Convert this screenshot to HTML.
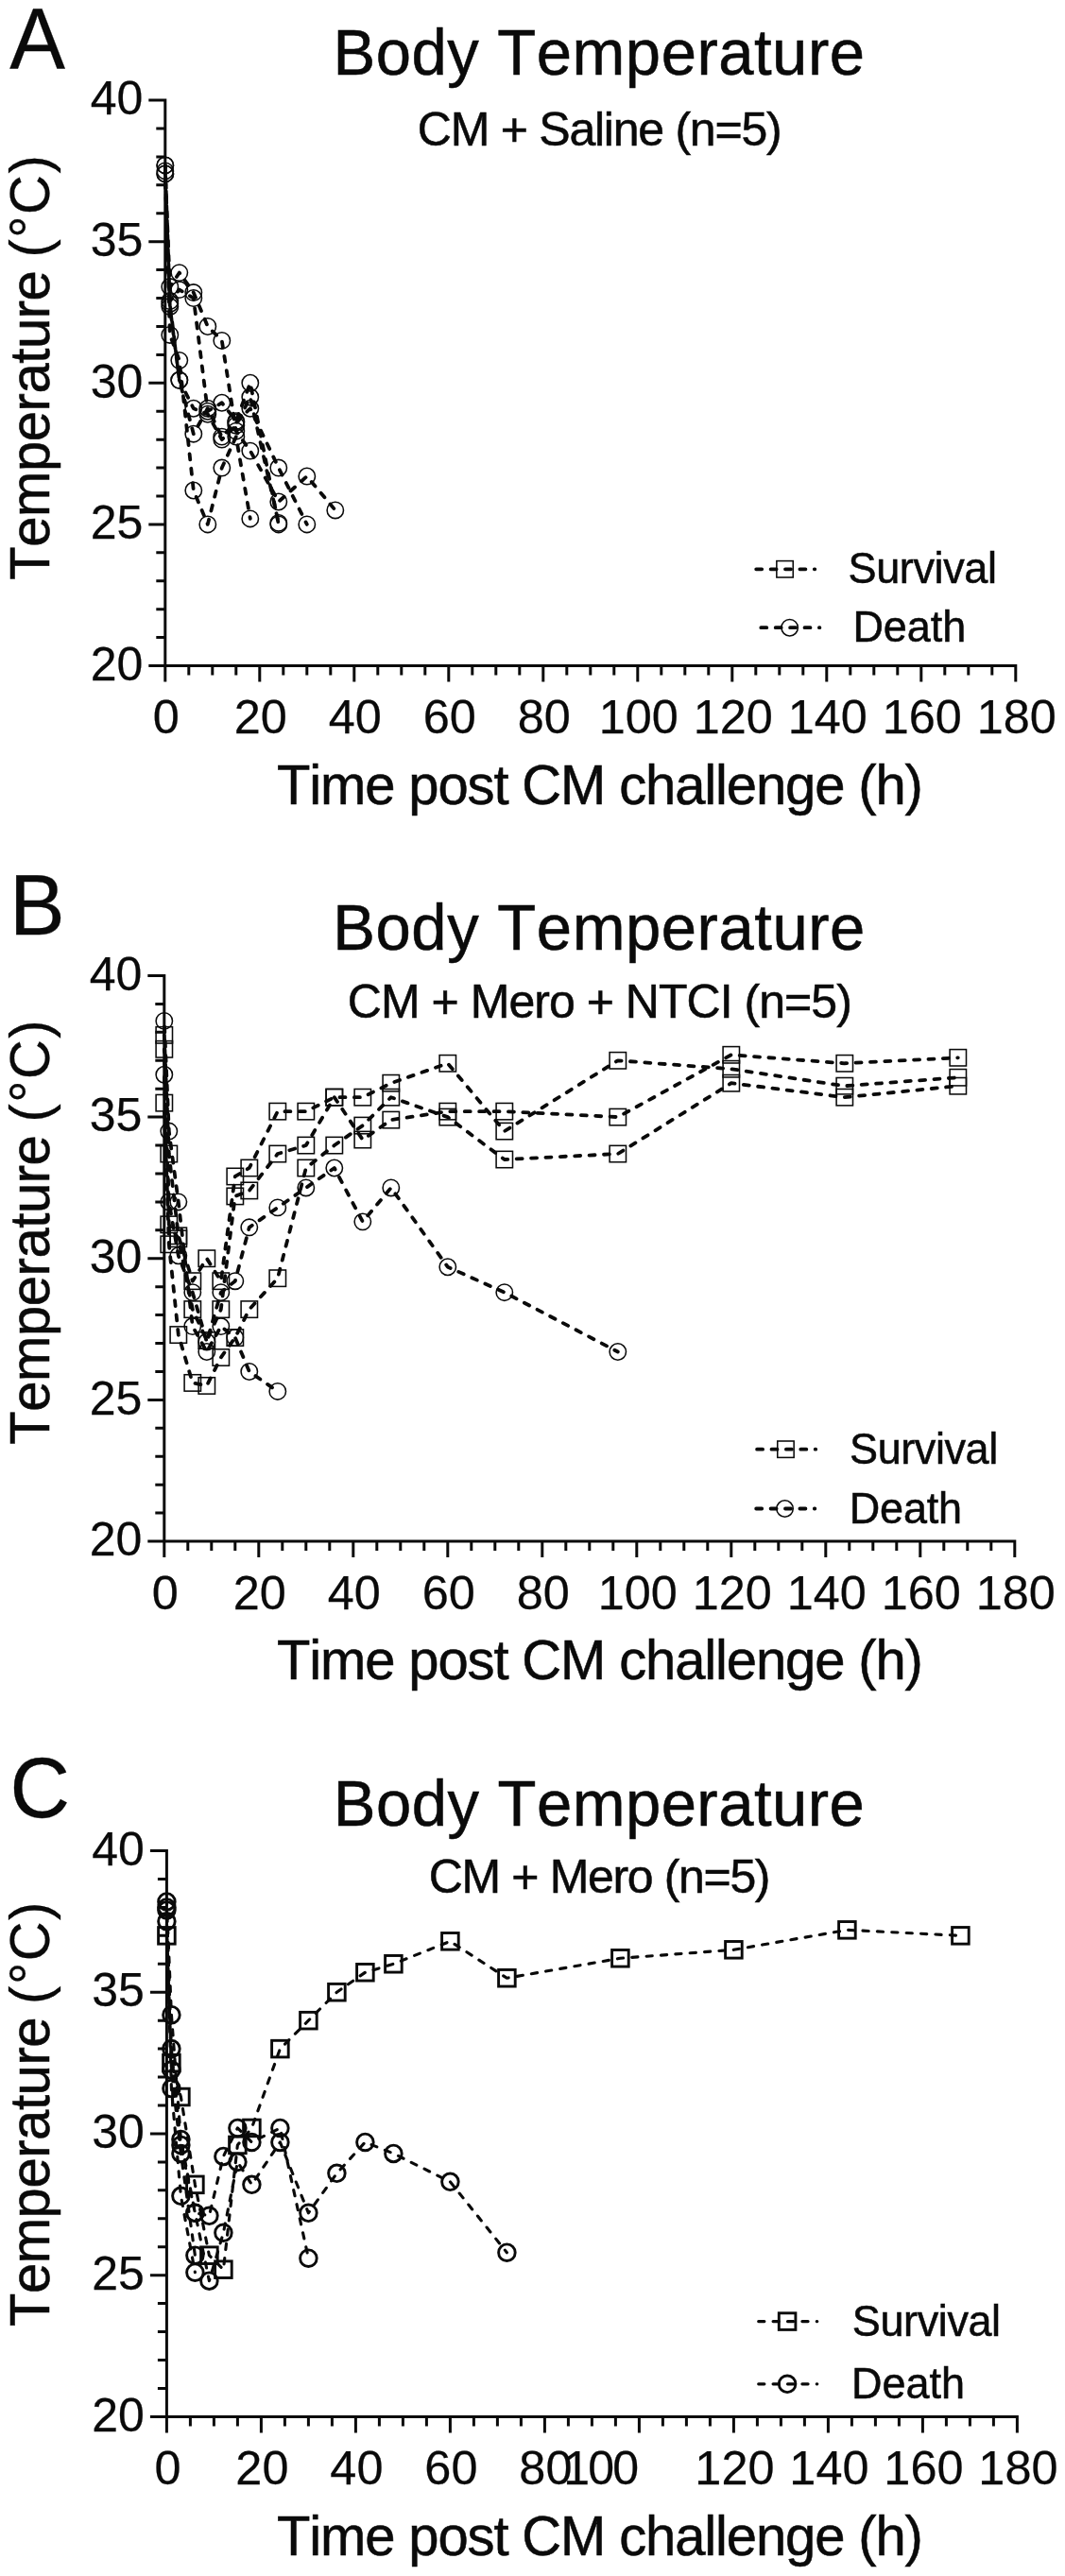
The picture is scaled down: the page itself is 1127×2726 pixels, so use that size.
<!DOCTYPE html>
<html lang="en"><head><meta charset="utf-8"><title>Body Temperature</title>
<style>html,body{margin:0;padding:0;background:#fff}svg{display:block;will-change:transform}text{font-family:'Liberation Sans', Arial, Helvetica, sans-serif;fill:#0a0a0a;font-kerning:none}</style></head><body>
<svg width="1127" height="2726" viewBox="0 0 1127 2726">
<rect width="1127" height="2726" fill="#fff"/>
<g id="panelA">
<text transform="translate(10.23 71.8) scale(1 1.04)" font-size="88" textLength="58.94" lengthAdjust="spacing" stroke="#0a0a0a" stroke-width="0.3">A</text>
<text transform="translate(352.5 79) scale(1 1.01)" font-size="67" textLength="562.47" lengthAdjust="spacing" stroke="#0a0a0a" stroke-width="0.55">Body Temperature</text>
<text transform="translate(441.86 153.9) scale(1 1.01)" font-size="50" textLength="385.74" lengthAdjust="spacing" stroke="#0a0a0a" stroke-width="0.55">CM + Saline (n=5)</text>
<text transform="translate(52 613.8) rotate(-90) scale(1 1.01)" font-size="58" textLength="327.68" lengthAdjust="spacing" stroke="#0a0a0a" stroke-width="0.55">Temperature</text>
<text transform="translate(52 272.6) rotate(-90) scale(1 1.01)" font-size="58" textLength="108.49" lengthAdjust="spacing" stroke="#0a0a0a" stroke-width="0.3">(°C)</text>
<text transform="translate(293 850.8) scale(1 1.01)" font-size="58" textLength="683.9" lengthAdjust="spacing" stroke="#0a0a0a" stroke-width="0.55">Time post CM challenge (h)</text>
<path d="M174.8 104.6V721.5M157.3 704.5H1076.3M165.3 674.58H174.8M165.3 644.66H174.8M165.3 614.74H174.8M165.3 584.82H174.8M157.3 554.9H174.8M165.3 524.98H174.8M165.3 495.06H174.8M165.3 465.14H174.8M165.3 435.22H174.8M157.3 405.3H174.8M165.3 375.38H174.8M165.3 345.46H174.8M165.3 315.54H174.8M165.3 285.62H174.8M157.3 255.7H174.8M165.3 225.78H174.8M165.3 195.86H174.8M165.3 165.94H174.8M165.3 136.02H174.8M157.3 106.1H174.8M199.8 704.5V714.5M224.8 704.5V714.5M249.8 704.5V714.5M274.8 704.5V721.5M299.8 704.5V714.5M324.8 704.5V714.5M349.8 704.5V714.5M374.8 704.5V721.5M399.8 704.5V714.5M424.8 704.5V714.5M449.8 704.5V714.5M474.8 704.5V721.5M499.8 704.5V714.5M524.8 704.5V714.5M549.8 704.5V714.5M574.8 704.5V721.5M599.8 704.5V714.5M624.8 704.5V714.5M649.8 704.5V714.5M674.8 704.5V721.5M699.8 704.5V714.5M724.8 704.5V714.5M749.8 704.5V714.5M774.8 704.5V721.5M799.8 704.5V714.5M824.8 704.5V714.5M849.8 704.5V714.5M874.8 704.5V721.5M899.8 704.5V714.5M924.8 704.5V714.5M949.8 704.5V714.5M974.8 704.5V721.5M999.8 704.5V714.5M1024.8 704.5V714.5M1049.8 704.5V714.5M1074.8 704.5V721.5" fill="none" stroke="#0a0a0a" stroke-width="3"/>
<text transform="translate(151.3 719.7) scale(1 1)" font-size="50" text-anchor="end" stroke="#0a0a0a" stroke-width="0.25">20</text>
<text transform="translate(151.3 570.1) scale(1 1)" font-size="50" text-anchor="end" stroke="#0a0a0a" stroke-width="0.25">25</text>
<text transform="translate(151.3 420.5) scale(1 1)" font-size="50" text-anchor="end" stroke="#0a0a0a" stroke-width="0.25">30</text>
<text transform="translate(151.3 270.9) scale(1 1)" font-size="50" text-anchor="end" stroke="#0a0a0a" stroke-width="0.25">35</text>
<text transform="translate(151.3 121.3) scale(1 1)" font-size="50" text-anchor="end" stroke="#0a0a0a" stroke-width="0.25">40</text>
<text transform="translate(175.8 776.2) scale(1 1)" font-size="50.4" text-anchor="middle" stroke="#0a0a0a" stroke-width="0.25">0</text>
<text transform="translate(275.8 776.2) scale(1 1)" font-size="50.4" text-anchor="middle" stroke="#0a0a0a" stroke-width="0.25">20</text>
<text transform="translate(375.8 776.2) scale(1 1)" font-size="50.4" text-anchor="middle" stroke="#0a0a0a" stroke-width="0.25">40</text>
<text transform="translate(475.8 776.2) scale(1 1)" font-size="50.4" text-anchor="middle" stroke="#0a0a0a" stroke-width="0.25">60</text>
<text transform="translate(575.8 776.2) scale(1 1)" font-size="50.4" text-anchor="middle" stroke="#0a0a0a" stroke-width="0.25">80</text>
<text transform="translate(675.8 776.2) scale(1 1)" font-size="50.4" text-anchor="middle" stroke="#0a0a0a" stroke-width="0.25">100</text>
<text transform="translate(775.8 776.2) scale(1 1)" font-size="50.4" text-anchor="middle" stroke="#0a0a0a" stroke-width="0.25">120</text>
<text transform="translate(875.8 776.2) scale(1 1)" font-size="50.4" text-anchor="middle" stroke="#0a0a0a" stroke-width="0.25">140</text>
<text transform="translate(975.8 776.2) scale(1 1)" font-size="50.4" text-anchor="middle" stroke="#0a0a0a" stroke-width="0.25">160</text>
<text transform="translate(1075.8 776.2) scale(1 1)" font-size="50.4" text-anchor="middle" stroke="#0a0a0a" stroke-width="0.25">180</text>
<g fill="none" stroke="#0a0a0a" stroke-width="3.8" stroke-linecap="round" stroke-linejoin="round" stroke-dasharray="6 9.4">
<polyline points="174.8,174.92 179.8,354.44 189.8,381.36 204.8,519 219.8,554.9 234.8,495.06 249.8,462.15 264.8,548.92" stroke-dashoffset="0"/>
<polyline points="174.8,180.9 179.8,303.57 189.8,288.61 204.8,309.56 219.8,345.46 234.8,360.42 249.8,456.16 264.8,477.11 294.8,530.96 324.8,504.04 354.8,539.94" stroke-dashoffset="3.1"/>
<polyline points="174.8,183.89 179.8,318.53 189.8,306.56 204.8,315.54 219.8,435.22 234.8,426.24 249.8,445.69 264.8,405.3 294.8,554.9" stroke-dashoffset="6.2"/>
<polyline points="174.8,174.92 179.8,321.52 189.8,402.31 204.8,432.23 219.8,438.21 234.8,465.14 249.8,450.18 264.8,420.26 294.8,553.4" stroke-dashoffset="3.54"/>
<polyline points="174.8,183.89 179.8,324.52 189.8,402.31 204.8,459.16 219.8,432.23 234.8,462.15 249.8,447.19 264.8,432.23 294.8,495.06 324.8,554.9" stroke-dashoffset="5.26"/>
<path d="M800.2 602.3H862.3"/>
<path d="M805.3 664.2H867.4"/>
</g>
<g fill="none" stroke="#0a0a0a" stroke-width="1.55">
<circle cx="174.8" cy="174.92" r="8.7"/>
<circle cx="179.8" cy="354.44" r="8.7"/>
<circle cx="189.8" cy="381.36" r="8.7"/>
<circle cx="204.8" cy="519" r="8.7"/>
<circle cx="219.8" cy="554.9" r="8.7"/>
<circle cx="234.8" cy="495.06" r="8.7"/>
<circle cx="249.8" cy="462.15" r="8.7"/>
<circle cx="264.8" cy="548.92" r="8.7"/>
<circle cx="174.8" cy="180.9" r="8.7"/>
<circle cx="179.8" cy="303.57" r="8.7"/>
<circle cx="189.8" cy="288.61" r="8.7"/>
<circle cx="204.8" cy="309.56" r="8.7"/>
<circle cx="219.8" cy="345.46" r="8.7"/>
<circle cx="234.8" cy="360.42" r="8.7"/>
<circle cx="249.8" cy="456.16" r="8.7"/>
<circle cx="264.8" cy="477.11" r="8.7"/>
<circle cx="294.8" cy="530.96" r="8.7"/>
<circle cx="324.8" cy="504.04" r="8.7"/>
<circle cx="354.8" cy="539.94" r="8.7"/>
<circle cx="174.8" cy="183.89" r="8.7"/>
<circle cx="179.8" cy="318.53" r="8.7"/>
<circle cx="189.8" cy="306.56" r="8.7"/>
<circle cx="204.8" cy="315.54" r="8.7"/>
<circle cx="219.8" cy="435.22" r="8.7"/>
<circle cx="234.8" cy="426.24" r="8.7"/>
<circle cx="249.8" cy="445.69" r="8.7"/>
<circle cx="264.8" cy="405.3" r="8.7"/>
<circle cx="294.8" cy="554.9" r="8.7"/>
<circle cx="174.8" cy="174.92" r="8.7"/>
<circle cx="179.8" cy="321.52" r="8.7"/>
<circle cx="189.8" cy="402.31" r="8.7"/>
<circle cx="204.8" cy="432.23" r="8.7"/>
<circle cx="219.8" cy="438.21" r="8.7"/>
<circle cx="234.8" cy="465.14" r="8.7"/>
<circle cx="249.8" cy="450.18" r="8.7"/>
<circle cx="264.8" cy="420.26" r="8.7"/>
<circle cx="294.8" cy="553.4" r="8.7"/>
<circle cx="174.8" cy="183.89" r="8.7"/>
<circle cx="179.8" cy="324.52" r="8.7"/>
<circle cx="189.8" cy="402.31" r="8.7"/>
<circle cx="204.8" cy="459.16" r="8.7"/>
<circle cx="219.8" cy="432.23" r="8.7"/>
<circle cx="234.8" cy="462.15" r="8.7"/>
<circle cx="249.8" cy="447.19" r="8.7"/>
<circle cx="264.8" cy="432.23" r="8.7"/>
<circle cx="294.8" cy="495.06" r="8.7"/>
<circle cx="324.8" cy="554.9" r="8.7"/>
<rect x="821.85" y="593.6" width="17.4" height="17.4"/>
<circle cx="835.65" cy="664.2" r="8.7"/>
</g>
<text transform="translate(897.56 617.3) scale(1 1.01)" font-size="45" textLength="157.35" lengthAdjust="spacing" stroke="#0a0a0a" stroke-width="0.55">Survival</text>
<text transform="translate(902.41 679) scale(1 1.01)" font-size="45" textLength="119.81" lengthAdjust="spacing" stroke="#0a0a0a" stroke-width="0.55">Death</text>
</g>
<g id="panelB">
<text transform="translate(9.88 988.5) scale(1 1.04)" font-size="88" textLength="59.06" lengthAdjust="spacing" stroke="#0a0a0a" stroke-width="0.3">B</text>
<text transform="translate(352.3 1004.8) scale(1 1.01)" font-size="67" textLength="563.07" lengthAdjust="spacing" stroke="#0a0a0a" stroke-width="0.55">Body Temperature</text>
<text transform="translate(367.86 1077.1) scale(1 1.01)" font-size="50" textLength="533.94" lengthAdjust="spacing" stroke="#0a0a0a" stroke-width="0.55">CM + Mero + NTCI (n=5)</text>
<text transform="translate(52 1528.8) rotate(-90) scale(1 1.01)" font-size="58" textLength="327.68" lengthAdjust="spacing" stroke="#0a0a0a" stroke-width="0.55">Temperature</text>
<text transform="translate(52 1187.6) rotate(-90) scale(1 1.01)" font-size="58" textLength="108.29" lengthAdjust="spacing" stroke="#0a0a0a" stroke-width="0.3">(°C)</text>
<text transform="translate(293 1777.2) scale(1 1.01)" font-size="58" textLength="683.9" lengthAdjust="spacing" stroke="#0a0a0a" stroke-width="0.55">Time post CM challenge (h)</text>
<path d="M173.8 1031V1648M156.3 1631H1075.3M164.3 1601.08H173.8M164.3 1571.15H173.8M164.3 1541.22H173.8M164.3 1511.3H173.8M156.3 1481.38H173.8M164.3 1451.45H173.8M164.3 1421.53H173.8M164.3 1391.6H173.8M164.3 1361.67H173.8M156.3 1331.75H173.8M164.3 1301.83H173.8M164.3 1271.9H173.8M164.3 1241.97H173.8M164.3 1212.05H173.8M156.3 1182.12H173.8M164.3 1152.2H173.8M164.3 1122.28H173.8M164.3 1092.35H173.8M164.3 1062.42H173.8M156.3 1032.5H173.8M198.8 1631V1641M223.8 1631V1641M248.8 1631V1641M273.8 1631V1648M298.8 1631V1641M323.8 1631V1641M348.8 1631V1641M373.8 1631V1648M398.8 1631V1641M423.8 1631V1641M448.8 1631V1641M473.8 1631V1648M498.8 1631V1641M523.8 1631V1641M548.8 1631V1641M573.8 1631V1648M598.8 1631V1641M623.8 1631V1641M648.8 1631V1641M673.8 1631V1648M698.8 1631V1641M723.8 1631V1641M748.8 1631V1641M773.8 1631V1648M798.8 1631V1641M823.8 1631V1641M848.8 1631V1641M873.8 1631V1648M898.8 1631V1641M923.8 1631V1641M948.8 1631V1641M973.8 1631V1648M998.8 1631V1641M1023.8 1631V1641M1048.8 1631V1641M1073.8 1631V1648" fill="none" stroke="#0a0a0a" stroke-width="3"/>
<text transform="translate(150.3 1646.2) scale(1 1)" font-size="50" text-anchor="end" stroke="#0a0a0a" stroke-width="0.25">20</text>
<text transform="translate(150.3 1496.58) scale(1 1)" font-size="50" text-anchor="end" stroke="#0a0a0a" stroke-width="0.25">25</text>
<text transform="translate(150.3 1346.95) scale(1 1)" font-size="50" text-anchor="end" stroke="#0a0a0a" stroke-width="0.25">30</text>
<text transform="translate(150.3 1197.33) scale(1 1)" font-size="50" text-anchor="end" stroke="#0a0a0a" stroke-width="0.25">35</text>
<text transform="translate(150.3 1047.7) scale(1 1)" font-size="50" text-anchor="end" stroke="#0a0a0a" stroke-width="0.25">40</text>
<text transform="translate(174.8 1702.7) scale(1 1)" font-size="50.4" text-anchor="middle" stroke="#0a0a0a" stroke-width="0.25">0</text>
<text transform="translate(274.8 1702.7) scale(1 1)" font-size="50.4" text-anchor="middle" stroke="#0a0a0a" stroke-width="0.25">20</text>
<text transform="translate(374.8 1702.7) scale(1 1)" font-size="50.4" text-anchor="middle" stroke="#0a0a0a" stroke-width="0.25">40</text>
<text transform="translate(474.8 1702.7) scale(1 1)" font-size="50.4" text-anchor="middle" stroke="#0a0a0a" stroke-width="0.25">60</text>
<text transform="translate(574.8 1702.7) scale(1 1)" font-size="50.4" text-anchor="middle" stroke="#0a0a0a" stroke-width="0.25">80</text>
<text transform="translate(674.8 1702.7) scale(1 1)" font-size="50.4" text-anchor="middle" stroke="#0a0a0a" stroke-width="0.25">100</text>
<text transform="translate(774.8 1702.7) scale(1 1)" font-size="50.4" text-anchor="middle" stroke="#0a0a0a" stroke-width="0.25">120</text>
<text transform="translate(874.8 1702.7) scale(1 1)" font-size="50.4" text-anchor="middle" stroke="#0a0a0a" stroke-width="0.25">140</text>
<text transform="translate(974.8 1702.7) scale(1 1)" font-size="50.4" text-anchor="middle" stroke="#0a0a0a" stroke-width="0.25">160</text>
<text transform="translate(1074.8 1702.7) scale(1 1)" font-size="50.4" text-anchor="middle" stroke="#0a0a0a" stroke-width="0.25">180</text>
<g fill="none" stroke="#0a0a0a" stroke-width="3.8" stroke-linecap="round" stroke-linejoin="round" stroke-dasharray="6 9.4">
<polyline points="173.8,1095.34 178.8,1221.03 188.8,1307.81 203.8,1355.69 218.8,1331.75 233.8,1355.69 248.8,1244.97 263.8,1235.99 293.8,1176.14 323.8,1176.14 353.8,1161.18 383.8,1161.18 413.8,1146.21 473.8,1125.27 533.8,1197.09 653.8,1122.28 773.8,1131.25 893.8,1149.21 1013.8,1140.23" stroke-dashoffset="0"/>
<polyline points="173.8,1110.31 178.8,1295.84 188.8,1310.8 203.8,1385.62 218.8,1418.53 233.8,1385.62 248.8,1265.91 263.8,1259.93 293.8,1221.03 323.8,1212.05 353.8,1161.18 383.8,1206.06 413.8,1185.12 473.8,1176.14 533.8,1176.14 653.8,1182.12 773.8,1116.29 893.8,1125.27 1013.8,1119.28" stroke-dashoffset="3.1"/>
<polyline points="173.8,1167.16 178.8,1316.79 188.8,1412.55 203.8,1463.42 218.8,1466.41 233.8,1436.49 248.8,1415.54 263.8,1385.62 293.8,1352.7 323.8,1235.99 353.8,1212.05 383.8,1191.1 413.8,1161.18 473.8,1182.12 533.8,1227.01 653.8,1221.03 773.8,1146.21 893.8,1161.18 1013.8,1149.21" stroke-dashoffset="6.2"/>
<polyline points="173.8,1080.38 178.8,1197.09 188.8,1271.9 203.8,1403.57 218.8,1430.5 233.8,1403.57 248.8,1415.54 263.8,1451.45 293.8,1472.4" stroke-dashoffset="9.3"/>
<polyline points="173.8,1137.24 178.8,1271.9 188.8,1328.76 203.8,1367.66 218.8,1420.03 233.8,1367.66 248.8,1355.69 263.8,1298.83 293.8,1277.88 323.8,1256.94 353.8,1235.99 383.8,1292.85 413.8,1256.94 473.8,1340.73 533.8,1367.66 653.8,1430.5" stroke-dashoffset="12.4"/>
<path d="M801.1 1533.7H863.2"/>
<path d="M800.2 1596.5H862.3"/>
</g>
<g fill="none" stroke="#0a0a0a" stroke-width="1.55">
<rect x="165.1" y="1086.64" width="17.4" height="17.4"/>
<rect x="170.1" y="1212.33" width="17.4" height="17.4"/>
<rect x="180.1" y="1299.11" width="17.4" height="17.4"/>
<rect x="195.1" y="1346.99" width="17.4" height="17.4"/>
<rect x="210.1" y="1323.05" width="17.4" height="17.4"/>
<rect x="225.1" y="1346.99" width="17.4" height="17.4"/>
<rect x="240.1" y="1236.27" width="17.4" height="17.4"/>
<rect x="255.1" y="1227.29" width="17.4" height="17.4"/>
<rect x="285.1" y="1167.44" width="17.4" height="17.4"/>
<rect x="315.1" y="1167.44" width="17.4" height="17.4"/>
<rect x="345.1" y="1152.48" width="17.4" height="17.4"/>
<rect x="375.1" y="1152.48" width="17.4" height="17.4"/>
<rect x="405.1" y="1137.51" width="17.4" height="17.4"/>
<rect x="465.1" y="1116.57" width="17.4" height="17.4"/>
<rect x="525.1" y="1188.39" width="17.4" height="17.4"/>
<rect x="645.1" y="1113.58" width="17.4" height="17.4"/>
<rect x="765.1" y="1122.55" width="17.4" height="17.4"/>
<rect x="885.1" y="1140.51" width="17.4" height="17.4"/>
<rect x="1005.1" y="1131.53" width="17.4" height="17.4"/>
<rect x="165.1" y="1101.61" width="17.4" height="17.4"/>
<rect x="170.1" y="1287.14" width="17.4" height="17.4"/>
<rect x="180.1" y="1302.1" width="17.4" height="17.4"/>
<rect x="195.1" y="1376.91" width="17.4" height="17.4"/>
<rect x="210.1" y="1409.83" width="17.4" height="17.4"/>
<rect x="225.1" y="1376.91" width="17.4" height="17.4"/>
<rect x="240.1" y="1257.21" width="17.4" height="17.4"/>
<rect x="255.1" y="1251.23" width="17.4" height="17.4"/>
<rect x="285.1" y="1212.33" width="17.4" height="17.4"/>
<rect x="315.1" y="1203.35" width="17.4" height="17.4"/>
<rect x="345.1" y="1152.48" width="17.4" height="17.4"/>
<rect x="375.1" y="1197.36" width="17.4" height="17.4"/>
<rect x="405.1" y="1176.42" width="17.4" height="17.4"/>
<rect x="465.1" y="1167.44" width="17.4" height="17.4"/>
<rect x="525.1" y="1167.44" width="17.4" height="17.4"/>
<rect x="645.1" y="1173.42" width="17.4" height="17.4"/>
<rect x="765.1" y="1107.59" width="17.4" height="17.4"/>
<rect x="885.1" y="1116.57" width="17.4" height="17.4"/>
<rect x="1005.1" y="1110.58" width="17.4" height="17.4"/>
<rect x="165.1" y="1158.46" width="17.4" height="17.4"/>
<rect x="170.1" y="1308.09" width="17.4" height="17.4"/>
<rect x="180.1" y="1403.85" width="17.4" height="17.4"/>
<rect x="195.1" y="1454.72" width="17.4" height="17.4"/>
<rect x="210.1" y="1457.71" width="17.4" height="17.4"/>
<rect x="225.1" y="1427.79" width="17.4" height="17.4"/>
<rect x="240.1" y="1406.84" width="17.4" height="17.4"/>
<rect x="255.1" y="1376.91" width="17.4" height="17.4"/>
<rect x="285.1" y="1344" width="17.4" height="17.4"/>
<rect x="315.1" y="1227.29" width="17.4" height="17.4"/>
<rect x="345.1" y="1203.35" width="17.4" height="17.4"/>
<rect x="375.1" y="1182.4" width="17.4" height="17.4"/>
<rect x="405.1" y="1152.48" width="17.4" height="17.4"/>
<rect x="465.1" y="1173.42" width="17.4" height="17.4"/>
<rect x="525.1" y="1218.31" width="17.4" height="17.4"/>
<rect x="645.1" y="1212.33" width="17.4" height="17.4"/>
<rect x="765.1" y="1137.51" width="17.4" height="17.4"/>
<rect x="885.1" y="1152.48" width="17.4" height="17.4"/>
<rect x="1005.1" y="1140.51" width="17.4" height="17.4"/>
<circle cx="173.8" cy="1080.38" r="8.7"/>
<circle cx="178.8" cy="1197.09" r="8.7"/>
<circle cx="188.8" cy="1271.9" r="8.7"/>
<circle cx="203.8" cy="1403.57" r="8.7"/>
<circle cx="218.8" cy="1430.5" r="8.7"/>
<circle cx="233.8" cy="1403.57" r="8.7"/>
<circle cx="248.8" cy="1415.54" r="8.7"/>
<circle cx="263.8" cy="1451.45" r="8.7"/>
<circle cx="293.8" cy="1472.4" r="8.7"/>
<circle cx="173.8" cy="1137.24" r="8.7"/>
<circle cx="178.8" cy="1271.9" r="8.7"/>
<circle cx="188.8" cy="1328.76" r="8.7"/>
<circle cx="203.8" cy="1367.66" r="8.7"/>
<circle cx="218.8" cy="1420.03" r="8.7"/>
<circle cx="233.8" cy="1367.66" r="8.7"/>
<circle cx="248.8" cy="1355.69" r="8.7"/>
<circle cx="263.8" cy="1298.83" r="8.7"/>
<circle cx="293.8" cy="1277.88" r="8.7"/>
<circle cx="323.8" cy="1256.94" r="8.7"/>
<circle cx="353.8" cy="1235.99" r="8.7"/>
<circle cx="383.8" cy="1292.85" r="8.7"/>
<circle cx="413.8" cy="1256.94" r="8.7"/>
<circle cx="473.8" cy="1340.73" r="8.7"/>
<circle cx="533.8" cy="1367.66" r="8.7"/>
<circle cx="653.8" cy="1430.5" r="8.7"/>
<rect x="822.75" y="1525" width="17.4" height="17.4"/>
<circle cx="830.55" cy="1596.5" r="8.7"/>
</g>
<text transform="translate(899.06 1549.2) scale(1 1.01)" font-size="45" textLength="157.15" lengthAdjust="spacing" stroke="#0a0a0a" stroke-width="0.55">Survival</text>
<text transform="translate(898.81 1611.7) scale(1 1.01)" font-size="45" textLength="119.31" lengthAdjust="spacing" stroke="#0a0a0a" stroke-width="0.55">Death</text>
</g>
<g id="panelC">
<text transform="translate(10.53 1923) scale(1 1.04)" font-size="88" textLength="62.82" lengthAdjust="spacing" stroke="#0a0a0a" stroke-width="0.3">C</text>
<text transform="translate(352.8 1931.8) scale(1 1.01)" font-size="67" textLength="561.97" lengthAdjust="spacing" stroke="#0a0a0a" stroke-width="0.55">Body Temperature</text>
<text transform="translate(453.76 2003) scale(1 1.01)" font-size="50" textLength="361.74" lengthAdjust="spacing" stroke="#0a0a0a" stroke-width="0.55">CM + Mero (n=5)</text>
<text transform="translate(52 2462.1) rotate(-90) scale(1 1.01)" font-size="58" textLength="327.68" lengthAdjust="spacing" stroke="#0a0a0a" stroke-width="0.55">Temperature</text>
<text transform="translate(52 2120.9) rotate(-90) scale(1 1.01)" font-size="58" textLength="108.29" lengthAdjust="spacing" stroke="#0a0a0a" stroke-width="0.3">(°C)</text>
<text transform="translate(293 2703.6) scale(1 1.01)" font-size="58" textLength="683.9" lengthAdjust="spacing" stroke="#0a0a0a" stroke-width="0.55">Time post CM challenge (h)</text>
<path d="M176.4 1957V2574.4M158.9 2557.4H1077.9M166.9 2527.45H176.4M166.9 2497.51H176.4M166.9 2467.57H176.4M166.9 2437.62H176.4M158.9 2407.68H176.4M166.9 2377.73H176.4M166.9 2347.78H176.4M166.9 2317.84H176.4M166.9 2287.89H176.4M158.9 2257.95H176.4M166.9 2228.01H176.4M166.9 2198.06H176.4M166.9 2168.12H176.4M166.9 2138.17H176.4M158.9 2108.22H176.4M166.9 2078.28H176.4M166.9 2048.34H176.4M166.9 2018.39H176.4M166.9 1988.45H176.4M158.9 1958.5H176.4M201.4 2557.4V2567.4M226.4 2557.4V2567.4M251.4 2557.4V2567.4M276.4 2557.4V2574.4M301.4 2557.4V2567.4M326.4 2557.4V2567.4M351.4 2557.4V2567.4M376.4 2557.4V2574.4M401.4 2557.4V2567.4M426.4 2557.4V2567.4M451.4 2557.4V2567.4M476.4 2557.4V2574.4M501.4 2557.4V2567.4M526.4 2557.4V2567.4M551.4 2557.4V2567.4M576.4 2557.4V2574.4M601.4 2557.4V2567.4M626.4 2557.4V2567.4M651.4 2557.4V2567.4M676.4 2557.4V2574.4M701.4 2557.4V2567.4M726.4 2557.4V2567.4M751.4 2557.4V2567.4M776.4 2557.4V2574.4M801.4 2557.4V2567.4M826.4 2557.4V2567.4M851.4 2557.4V2567.4M876.4 2557.4V2574.4M901.4 2557.4V2567.4M926.4 2557.4V2567.4M951.4 2557.4V2567.4M976.4 2557.4V2574.4M1001.4 2557.4V2567.4M1026.4 2557.4V2567.4M1051.4 2557.4V2567.4M1076.4 2557.4V2574.4" fill="none" stroke="#0a0a0a" stroke-width="3"/>
<text transform="translate(152.9 2572.6) scale(1 1)" font-size="50" text-anchor="end" stroke="#0a0a0a" stroke-width="0.25">20</text>
<text transform="translate(152.9 2422.88) scale(1 1)" font-size="50" text-anchor="end" stroke="#0a0a0a" stroke-width="0.25">25</text>
<text transform="translate(152.9 2273.15) scale(1 1)" font-size="50" text-anchor="end" stroke="#0a0a0a" stroke-width="0.25">30</text>
<text transform="translate(152.9 2123.42) scale(1 1)" font-size="50" text-anchor="end" stroke="#0a0a0a" stroke-width="0.25">35</text>
<text transform="translate(152.9 1973.7) scale(1 1)" font-size="50" text-anchor="end" stroke="#0a0a0a" stroke-width="0.25">40</text>
<text transform="translate(177.4 2629.1) scale(1 1)" font-size="50.4" text-anchor="middle" stroke="#0a0a0a" stroke-width="0.25">0</text>
<text transform="translate(277.4 2629.1) scale(1 1)" font-size="50.4" text-anchor="middle" stroke="#0a0a0a" stroke-width="0.25">20</text>
<text transform="translate(377.4 2629.1) scale(1 1)" font-size="50.4" text-anchor="middle" stroke="#0a0a0a" stroke-width="0.25">40</text>
<text transform="translate(477.4 2629.1) scale(1 1)" font-size="50.4" text-anchor="middle" stroke="#0a0a0a" stroke-width="0.25">60</text>
<text transform="translate(577.4 2629.1) scale(1 1)" font-size="50.4" text-anchor="middle" stroke="#0a0a0a" stroke-width="0.25">80</text>
<text transform="translate(596.29 2629.1) scale(1 1)" font-size="50" textLength="79.66" lengthAdjust="spacing" stroke="#0a0a0a" stroke-width="0.25">100</text>
<text transform="translate(777.4 2629.1) scale(1 1)" font-size="50.4" text-anchor="middle" stroke="#0a0a0a" stroke-width="0.25">120</text>
<text transform="translate(877.4 2629.1) scale(1 1)" font-size="50.4" text-anchor="middle" stroke="#0a0a0a" stroke-width="0.25">140</text>
<text transform="translate(977.4 2629.1) scale(1 1)" font-size="50.4" text-anchor="middle" stroke="#0a0a0a" stroke-width="0.25">160</text>
<text transform="translate(1077.4 2629.1) scale(1 1)" font-size="50.4" text-anchor="middle" stroke="#0a0a0a" stroke-width="0.25">180</text>
<g fill="none" stroke="#0a0a0a" stroke-width="3.15" stroke-linecap="round" stroke-linejoin="round" stroke-dasharray="6.2 9.2">
<polyline points="176.4,2048.34 181.4,2183.09 191.4,2219.02 206.4,2311.85 221.4,2386.71 236.4,2401.69 251.4,2269.93 266.4,2251.96 296.4,2168.12 326.4,2138.17 356.4,2108.22 386.4,2087.26 416.4,2078.28 476.4,2054.32 536.4,2093.25 656.4,2072.29 776.4,2063.31 896.4,2042.35 1016.4,2048.34" stroke-dashoffset="0"/>
<polyline points="176.4,2012.4 181.4,2132.18 191.4,2263.94 206.4,2341.8 221.4,2344.79 236.4,2281.91 251.4,2251.96 266.4,2266.93 296.4,2251.96 326.4,2389.71" stroke-dashoffset="3.1"/>
<polyline points="176.4,2018.39 181.4,2168.12 191.4,2269.93 206.4,2341.8 221.4,2413.66 236.4,2362.76 251.4,2287.89 266.4,2311.85 296.4,2266.93 326.4,2341.8 356.4,2299.87 386.4,2266.93 416.4,2278.91 476.4,2308.86 536.4,2383.72" stroke-dashoffset="6.2"/>
<polyline points="176.4,2021.38 181.4,2190.57 191.4,2278.91 206.4,2386.71" stroke-dashoffset="9.3"/>
<polyline points="176.4,2033.36 181.4,2210.04 191.4,2323.83 206.4,2404.68" stroke-dashoffset="12.4"/>
<path d="M802.68 2456.6H864.78"/>
<path d="M802.68 2522.8H864.78"/>
</g>
<g fill="none" stroke="#0a0a0a" stroke-width="2.9">
<rect x="167.6" y="2039.54" width="17.6" height="17.6"/>
<rect x="172.6" y="2174.29" width="17.6" height="17.6"/>
<rect x="182.6" y="2210.22" width="17.6" height="17.6"/>
<rect x="197.6" y="2303.05" width="17.6" height="17.6"/>
<rect x="212.6" y="2377.91" width="17.6" height="17.6"/>
<rect x="227.6" y="2392.89" width="17.6" height="17.6"/>
<rect x="242.6" y="2261.13" width="17.6" height="17.6"/>
<rect x="257.6" y="2243.16" width="17.6" height="17.6"/>
<rect x="287.6" y="2159.32" width="17.6" height="17.6"/>
<rect x="317.6" y="2129.37" width="17.6" height="17.6"/>
<rect x="347.6" y="2099.42" width="17.6" height="17.6"/>
<rect x="377.6" y="2078.46" width="17.6" height="17.6"/>
<rect x="407.6" y="2069.48" width="17.6" height="17.6"/>
<rect x="467.6" y="2045.52" width="17.6" height="17.6"/>
<rect x="527.6" y="2084.45" width="17.6" height="17.6"/>
<rect x="647.6" y="2063.49" width="17.6" height="17.6"/>
<rect x="767.6" y="2054.51" width="17.6" height="17.6"/>
<rect x="887.6" y="2033.55" width="17.6" height="17.6"/>
<rect x="1007.6" y="2039.54" width="17.6" height="17.6"/>
<circle cx="176.4" cy="2012.4" r="8.8"/>
<circle cx="181.4" cy="2132.18" r="8.8"/>
<circle cx="191.4" cy="2263.94" r="8.8"/>
<circle cx="206.4" cy="2341.8" r="8.8"/>
<circle cx="221.4" cy="2344.79" r="8.8"/>
<circle cx="236.4" cy="2281.91" r="8.8"/>
<circle cx="251.4" cy="2251.96" r="8.8"/>
<circle cx="266.4" cy="2266.93" r="8.8"/>
<circle cx="296.4" cy="2251.96" r="8.8"/>
<circle cx="326.4" cy="2389.71" r="8.8"/>
<circle cx="176.4" cy="2018.39" r="8.8"/>
<circle cx="181.4" cy="2168.12" r="8.8"/>
<circle cx="191.4" cy="2269.93" r="8.8"/>
<circle cx="206.4" cy="2341.8" r="8.8"/>
<circle cx="221.4" cy="2413.66" r="8.8"/>
<circle cx="236.4" cy="2362.76" r="8.8"/>
<circle cx="251.4" cy="2287.89" r="8.8"/>
<circle cx="266.4" cy="2311.85" r="8.8"/>
<circle cx="296.4" cy="2266.93" r="8.8"/>
<circle cx="326.4" cy="2341.8" r="8.8"/>
<circle cx="356.4" cy="2299.87" r="8.8"/>
<circle cx="386.4" cy="2266.93" r="8.8"/>
<circle cx="416.4" cy="2278.91" r="8.8"/>
<circle cx="476.4" cy="2308.86" r="8.8"/>
<circle cx="536.4" cy="2383.72" r="8.8"/>
<circle cx="176.4" cy="2021.38" r="8.8"/>
<circle cx="181.4" cy="2190.57" r="8.8"/>
<circle cx="191.4" cy="2278.91" r="8.8"/>
<circle cx="206.4" cy="2386.71" r="8.8"/>
<circle cx="176.4" cy="2033.36" r="8.8"/>
<circle cx="181.4" cy="2210.04" r="8.8"/>
<circle cx="191.4" cy="2323.83" r="8.8"/>
<circle cx="206.4" cy="2404.68" r="8.8"/>
<rect x="824.3" y="2447.8" width="17.6" height="17.6"/>
<circle cx="833.1" cy="2522.8" r="8.8"/>
</g>
<text transform="translate(901.86 2472.4) scale(1 1.01)" font-size="45" textLength="157.25" lengthAdjust="spacing" stroke="#0a0a0a" stroke-width="0.55">Survival</text>
<text transform="translate(901.11 2537.7) scale(1 1.01)" font-size="45" textLength="119.81" lengthAdjust="spacing" stroke="#0a0a0a" stroke-width="0.55">Death</text>
</g>
</svg></body></html>
